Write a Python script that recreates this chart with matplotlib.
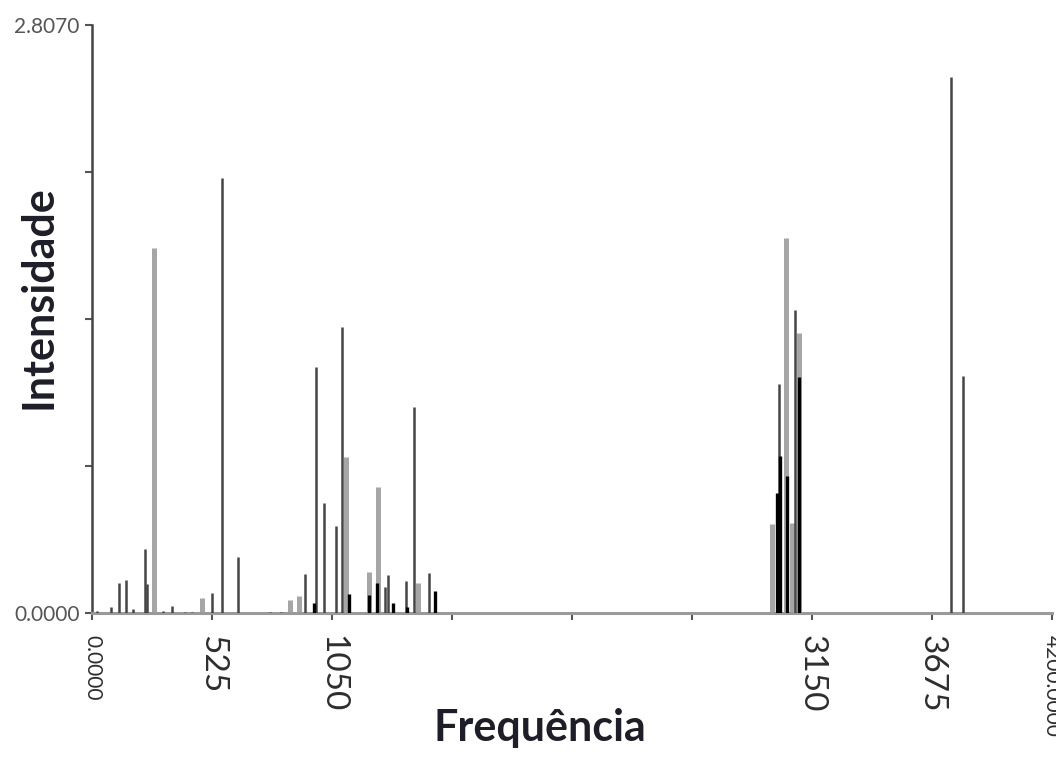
import matplotlib
matplotlib.use("Agg")
import matplotlib.pyplot as plt

# --- spectrum data (frequency, intensity) ---
light_freq = [271, 480, 867, 905, 1112, 1214, 1250, 1426, 2975, 3036, 3062, 3094]
light_int = [1.742, 0.070, 0.060, 0.080, 0.743, 0.197, 0.603, 0.145, 0.425, 1.789, 0.431, 1.335]

dark_freq = [22, 82, 117, 151, 178, 233, 241, 309, 352, 406, 437, 527, 571, 640,
             777, 828, 931, 981, 1016, 1068, 1093, 1284, 1295, 1374, 1409, 1473,
             3007, 3077, 3760, 3810]
dark_int = [0.010, 0.030, 0.145, 0.160, 0.020, 0.305, 0.140, 0.010, 0.035, 0.005, 0.005,
            0.097, 2.076, 0.267, 0.005, 0.005, 0.186, 1.176, 0.525, 0.415, 1.364,
            0.126, 0.180, 0.153, 0.985, 0.192, 1.093, 1.446, 2.560, 1.131]

black_freq = [971, 1123, 1211, 1246, 1315, 1380, 1502, 2998, 3012, 3042, 3095]
black_int = [0.046, 0.090, 0.086, 0.145, 0.047, 0.030, 0.106, 0.573, 0.750, 0.654, 1.128]

y_max = 2.8070
x_max = 4200
x_ticks = [0, 525, 1050, 1575, 2100, 2625, 3150, 3675, 4200]
x_labels = ["0.0000", "525", "1050", "", "", "", "3150", "3675", "4200.0000"]

fig = plt.figure(figsize=(10.56, 7.71), dpi=100)
ax = fig.add_axes([0.0871, 0.2049, 0.9091, 0.7627])

ax.vlines(light_freq, 0, light_int, colors="#a6a6a6", linewidth=3.6, zorder=2)
ax.vlines(dark_freq, 0, dark_int, colors="#454545", linewidth=1.8, zorder=3)
ax.vlines(black_freq, 0, black_int, colors="#000000", linewidth=2.4, zorder=4)

ax.set_xlim(0, x_max)
ax.set_ylim(0, y_max)

# y axis: only end labels, quarter ticks
ax.set_yticks([0, y_max / 4, y_max / 2, 3 * y_max / 4, y_max])
ax.set_yticklabels(["0.0000", "", "", "", "2.8070"], fontsize=15, fontfamily="Lato")
ax.set_xticks(x_ticks)
ax.set_xticklabels(x_labels, rotation=-90, fontfamily="Lato")
for lab, txt in zip(ax.get_xticklabels(), x_labels):
    lab.set_fontsize(15 if "." in txt else 24)
    lab.set_va("top")
    lab.set_ha("center")

ax.tick_params(axis="both", direction="out", length=5, width=1.5, colors="#555555",
               pad=11)
ax.tick_params(axis="y", pad=4)
for lab in ax.get_yticklabels():
    lab.set_color("#555555")
for lab in ax.get_xticklabels():
    lab.set_color("#2e2e2e")

for side in ["top", "right"]:
    ax.spines[side].set_visible(False)
ax.spines["left"].set_color("#444444")
ax.spines["left"].set_linewidth(1.8)
ax.spines["bottom"].set_color("#9a9a9a")
ax.spines["bottom"].set_linewidth(2.2)

fig.text(0.036, 0.615, "Intensidade", rotation=90, ha="center", va="center",
         fontsize=31, fontweight="bold", fontfamily="Lato", color="#1e1e28")
fig.text(0.511, 0.056, "Frequência", ha="center", va="center",
         fontsize=31, fontweight="bold", fontfamily="Lato", color="#1e1e28")

fig.savefig("out.png", dpi=100, facecolor="white")
